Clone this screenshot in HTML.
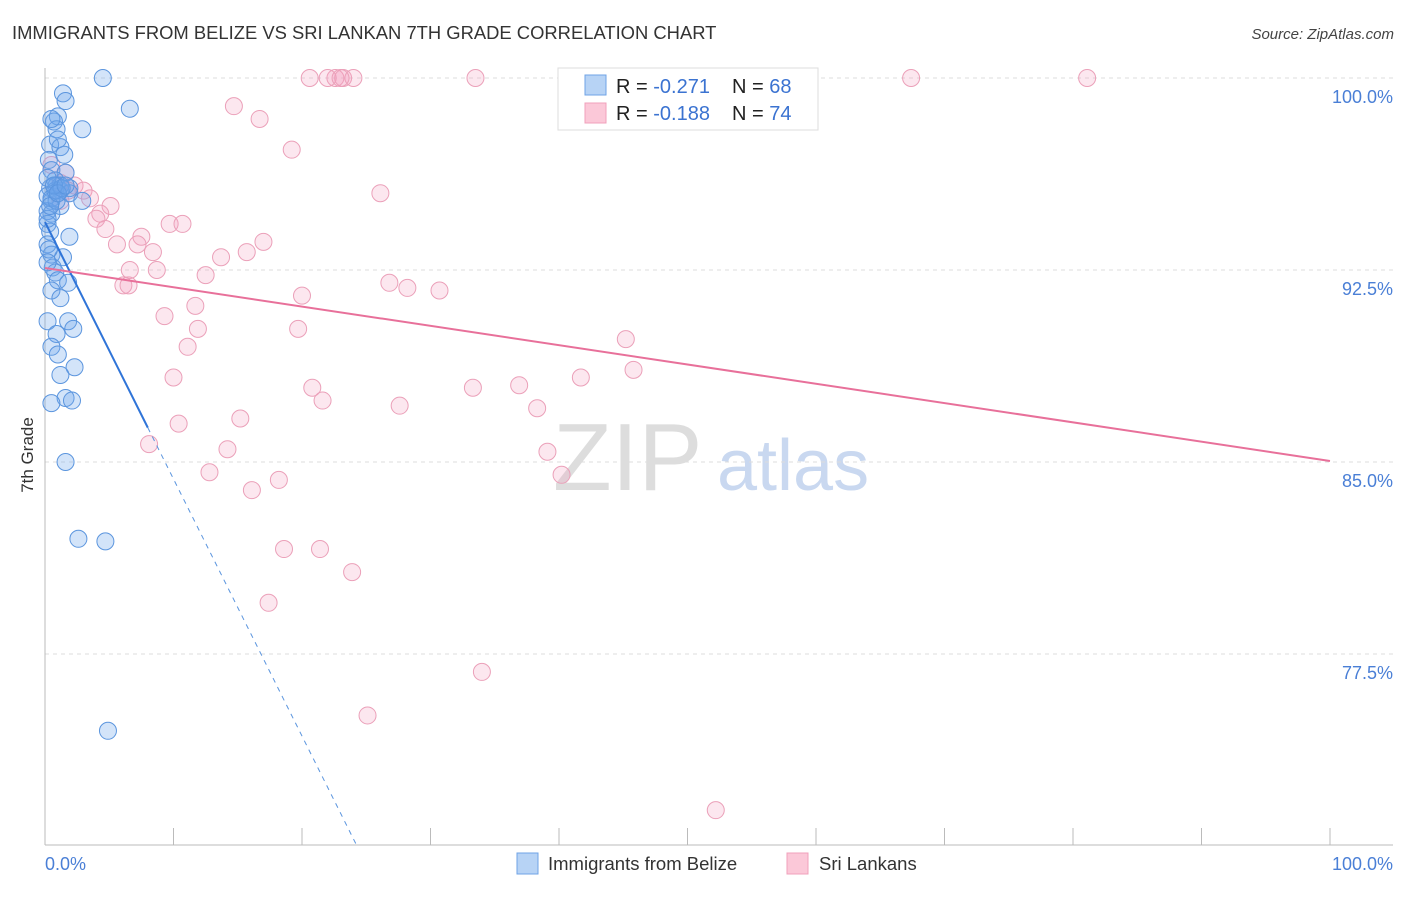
<!DOCTYPE html>
<html><head><meta charset="utf-8"><style>
body{margin:0;background:#fff;font-family:"Liberation Sans",sans-serif;}
svg text{font-family:"Liberation Sans",sans-serif;}
</style></head><body>
<svg id="chart" width="1406" height="892" xmlns="http://www.w3.org/2000/svg">
<text x="12" y="39" font-size="18.4" fill="#333">IMMIGRANTS FROM BELIZE VS SRI LANKAN 7TH GRADE CORRELATION CHART</text>
<text x="1394" y="39" font-size="15" fill="#444" text-anchor="end" font-style="italic">Source: ZipAtlas.com</text>
<text transform="translate(33,455) rotate(-90)" font-size="17" fill="#333" text-anchor="middle">7th Grade</text>
<g>
<text x="553" y="490" font-size="96" fill="#ddd" font-family="Liberation Serif,serif">ZIP</text>
<text x="717" y="490" font-size="72" fill="#c9d8f0">atlas</text>
</g>
<g id="grid"></g>
<g id="axes"></g>
<g id="marks"></g>
<g>
<rect x="558" y="68" width="260" height="62" fill="#fff" stroke="#ddd"/>
<rect x="585" y="75" width="21" height="20" fill="#b7d3f5" stroke="#6fa3e6"/>
<rect x="585" y="103" width="21" height="20" fill="#fbc8d8" stroke="#f0a0bb"/>
<text x="616" y="93" font-size="20" fill="#222">R = <tspan fill="#3b73d1">-0.271</tspan><tspan x="732">N = </tspan><tspan fill="#3b73d1">68</tspan></text>
<text x="616" y="120" font-size="20" fill="#222">R = <tspan fill="#3b73d1">-0.188</tspan><tspan x="732">N = </tspan><tspan fill="#3b73d1">74</tspan></text>
</g>
<g>
<rect x="517" y="853" width="21" height="21" fill="#b7d3f5" stroke="#6fa3e6"/>
<text x="548" y="870" font-size="18.5" fill="#333">Immigrants from Belize</text>
<rect x="787" y="853" width="21" height="21" fill="#fbc8d8" stroke="#f0a0bb"/>
<text x="819" y="870" font-size="18.5" fill="#333">Sri Lankans</text>
</g>
</svg>
<script>
const blueX=[4.5,1.4,1.6,6.6,1.0,0.7,0.9,2.9,0.4,1.2,1.5,0.3,0.5,1.6,0.8,0.4,0.9,1.2,1.9,0.5,1.2,0.2,0.5,0.2,0.4,1.9,0.2,0.5,1.4,0.6,0.8,1.0,1.8,0.5,1.2,0.2,1.8,2.2,0.9,0.5,1.0,2.3,1.2,1.6,2.1,0.5,1.6,2.6,4.7,4.9,0.2,0.5,0.9,0.2,0.8,1.2,0.2,1.9,2.9,0.5,1.0,1.3,0.3,0.7,0.4,1.0,1.6,0.2];
const blueY=[100,99.4,99.1,98.8,98.5,98.3,98.0,98.0,97.4,97.3,97.0,96.8,96.4,96.3,96.0,95.7,95.8,95.6,95.7,95.2,95.0,94.8,94.7,94.3,94.0,93.8,93.5,93.1,93.0,92.6,92.4,92.1,92.0,91.7,91.4,90.5,90.5,90.2,90.0,89.5,89.2,88.7,88.4,87.5,87.4,87.3,85.0,82.0,81.9,74.5,95.4,95.3,95.2,94.5,95.6,95.8,96.1,95.5,95.2,98.4,97.6,95.7,93.3,95.8,95.0,95.5,95.8,92.8];
const pinkX=[20.6,22.6,23.2,24.0,22.0,23.0,33.5,67.4,81.1,14.7,16.7,19.2,26.1,0.5,1.6,1.2,2.3,3.0,3.5,1.8,5.1,4.3,4.0,4.7,5.6,7.5,7.2,8.4,9.7,10.7,6.6,8.7,6.1,6.5,12.5,13.7,15.7,17.0,20.0,26.8,28.2,30.7,9.3,11.7,11.9,19.7,11.1,45.2,45.8,10.0,20.8,21.6,33.3,36.9,41.7,27.6,38.3,15.2,10.4,8.1,14.2,39.1,12.8,18.2,16.1,40.2,18.6,21.4,23.9,17.4,34.0,25.1,52.2,1.2];
const pinkY=[100,100,100,100,100,100,100,100,100,98.9,98.4,97.2,95.5,96.6,96.3,95.9,95.8,95.6,95.3,95.6,95.0,94.7,94.5,94.1,93.5,93.8,93.5,93.2,94.3,94.3,92.5,92.5,91.9,91.9,92.3,93.0,93.2,93.6,91.5,92.0,91.8,91.7,90.7,91.1,90.2,90.2,89.5,89.8,88.6,88.3,87.9,87.4,87.9,88.0,88.3,87.2,87.1,86.7,86.5,85.7,85.5,85.4,84.6,84.3,83.9,84.5,81.6,81.6,80.7,79.5,76.8,75.1,71.4,95.2];
const yTicks=[100,92.5,85,77.5];
const yTickLabels=["100.0%","92.5%","85.0%","77.5%"];
const blueTrend=[94.375,-1.004];
const pinkTrend=[92.58,85.04];
const NS="http://www.w3.org/2000/svg";
const xs=v=>45+v*12.85;
const ys=v=>78+(100-v)*25.6;
function mk(tag,attrs,parent){const e=document.createElementNS(NS,tag);for(const k in attrs)e.setAttribute(k,attrs[k]);document.getElementById(parent).appendChild(e);return e;}
yTicks.forEach((t,i)=>{
 const g=mk('line',{x1:45,x2:1393,y1:ys(t),y2:ys(t),stroke:'#ddd','stroke-dasharray':'4,4'},'grid');
 
 
 const l=mk('text',{x:1393,y:ys(t)+25,'font-size':18,fill:'#4a7fd6','text-anchor':'end'},'grid');
 l.textContent=yTickLabels[i];
 
 
});
const ax=mk('line',{x1:45,x2:45,y1:68,y2:845,stroke:'#bbb'},'axes');


const bx=mk('line',{x1:45,x2:1393,y1:845,y2:845,stroke:'#bbb'},'axes');


for(let i=0;i<=10;i++){const t=mk('line',{x1:xs(i*10),x2:xs(i*10),y1:828,y2:845,stroke:'#bbb'},'axes');
 
 }
const x0=mk('text',{x:45,y:870,'font-size':18,fill:'#4a7fd6'},'axes');x0.textContent='0.0%';


const x1=mk('text',{x:1393,y:870,'font-size':18,fill:'#4a7fd6','text-anchor':'end'},'axes');x1.textContent='100.0%';


pinkX.forEach((v,i)=>{const c=mk('circle',{cx:xs(v),cy:ys(pinkY[i]),r:8.5,fill:'rgba(245,160,190,0.25)',stroke:'#eba0b9','stroke-width':1},'marks');
 
 });
blueX.forEach((v,i)=>{const c=mk('circle',{cx:xs(v),cy:ys(blueY[i]),r:8.5,fill:'rgba(110,165,235,0.3)',stroke:'#5b95de','stroke-width':1},'marks');
 
 });
const bEnd=(70-blueTrend[0])/blueTrend[1];
const bSolid=8;
const bl1=mk('line',{x1:xs(0),y1:ys(blueTrend[0]),x2:xs(bSolid),y2:ys(blueTrend[0]+blueTrend[1]*bSolid),stroke:'#2f74d8','stroke-width':2},'marks');


const bl2=mk('line',{x1:xs(bSolid),y1:ys(blueTrend[0]+blueTrend[1]*bSolid),x2:xs(bEnd),y2:ys(70),stroke:'#5b95de','stroke-width':1,'stroke-dasharray':'5,5'},'marks');


const pl=mk('line',{x1:xs(0),y1:ys(pinkTrend[0]),x2:xs(100),y2:ys(pinkTrend[1]),stroke:'#e8709a','stroke-width':2},'marks');


</script>
</body></html>
